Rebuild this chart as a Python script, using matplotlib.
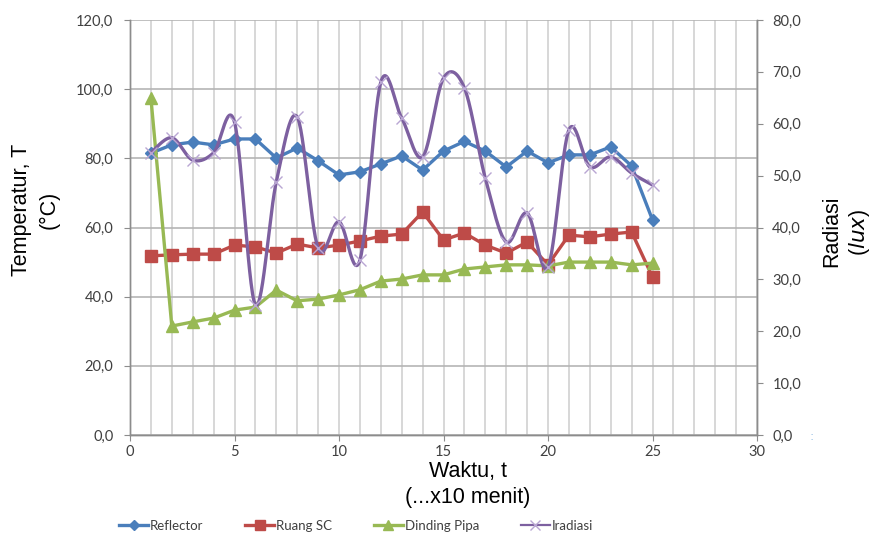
import numpy as np
import matplotlib
matplotlib.use("Agg")
import matplotlib.pyplot as plt
from matplotlib.lines import Line2D
from matplotlib.ticker import FuncFormatter, MultipleLocator

# Waktu (x10 menit)
waktu = list(range(1, 26))

# Temperatur (°C)
reflector = [81.5, 83.9, 84.7, 83.9, 85.6, 85.6, 80.1, 83.0, 79.3, 75.2,
             76.1, 78.4, 80.7, 76.6, 82.1, 84.9, 82.1, 77.5, 82.1, 78.7,
             81.0, 81.0, 83.3, 77.8, 62.2]
ruang_sc = [51.8, 52.1, 52.3, 52.3, 54.9, 54.4, 52.6, 55.2, 54.1, 54.9,
            56.1, 57.5, 58.1, 64.5, 56.4, 58.4, 54.9, 52.6, 55.8, 49.2,
            57.8, 57.3, 58.1, 58.7, 45.7]
dinding_pipa = [97.5, 31.5, 32.7, 33.8, 36.1, 37.0, 41.9, 38.8, 39.3, 40.5,
                42.0, 44.5, 45.1, 46.3, 46.3, 48.0, 48.6, 49.2, 49.2, 48.9,
                50.0, 50.0, 50.0, 49.2, 49.7]

# Radiasi (lux)
iradiasi = [54.4, 57.3, 53.0, 54.4, 60.3, 25.1, 48.8, 61.3, 36.0, 41.1,
            33.7, 68.0, 61.1, 53.6, 68.8, 66.9, 49.5, 37.2, 42.8, 32.4,
            58.8, 51.7, 53.6, 50.5, 48.2]

C_BLUE = "#4a7ebb"
C_RED = "#be4b48"
C_GREEN = "#98b954"
C_PURPLE = "#7d60a0"
C_TEXT = "#404040"


def smooth_curve(x, y, n=30):
    """Bezier smoothing through the points (Catmull-Rom style controls)."""
    p = np.column_stack([x, y]).astype(float)
    pts = np.vstack([p[0], p, p[-1]])
    out = []
    t = np.linspace(0, 1, n)[:, None]
    for i in range(1, len(pts) - 2):
        p0, p1, p2, p3 = pts[i - 1], pts[i], pts[i + 1], pts[i + 2]
        c1 = p1 + (p2 - p0) / 6.0
        c2 = p2 - (p3 - p1) / 6.0
        seg = ((1 - t) ** 3) * p1 + 3 * ((1 - t) ** 2) * t * c1 \
            + 3 * (1 - t) * t ** 2 * c2 + t ** 3 * p2
        out.append(seg if i == 1 else seg[1:])
    seg = np.vstack(out)
    return seg[:, 0], seg[:, 1]


comma = FuncFormatter(lambda v, pos: f"{v:.1f}".replace(".", ","))

fig = plt.figure(figsize=(8.75, 5.38), dpi=100)
ax = fig.add_axes([130 / 875, 103 / 538, 627 / 875, 415 / 538])
ax2 = ax.twinx()

ax.set_xlim(0, 30)
ax.set_ylim(0, 120)
ax2.set_ylim(0, 80)

ax.xaxis.set_major_locator(MultipleLocator(5))
ax.xaxis.set_minor_locator(MultipleLocator(1))
ax.yaxis.set_major_locator(MultipleLocator(20))
ax2.yaxis.set_major_locator(MultipleLocator(10))
ax.yaxis.set_major_formatter(comma)
ax2.yaxis.set_major_formatter(comma)

ax.grid(which="both", axis="x", color="#d4d4d4", lw=1.3)
ax.grid(which="major", axis="y", color="#b5b5b5", lw=1.2)
ax.set_axisbelow(True)

for a in (ax, ax2):
    for s in a.spines.values():
        s.set_color("#8c8c8c")
        s.set_linewidth(1.0)
    a.spines["top"].set_visible(False)

ax.tick_params(axis="x", which="major", direction="out", length=4,
               color="#8c8c8c", labelcolor=C_TEXT, pad=3)
ax.tick_params(axis="y", which="major", direction="out", length=4,
               color="#8c8c8c", labelcolor=C_TEXT, pad=8)
ax.tick_params(axis="x", which="minor", length=0)
ax2.tick_params(axis="y", direction="out", length=4, color="#8c8c8c",
                labelcolor=C_TEXT, pad=7)
for lbl in ax.get_xticklabels() + ax.get_yticklabels() + ax2.get_yticklabels():
    lbl.set_fontfamily("Lato")
    lbl.set_fontsize(10.5)

lw = 2.4
ax.plot(waktu, reflector, color=C_BLUE, lw=lw, marker="D", ms=6.5,
        mfc=C_BLUE, mec=C_BLUE, zorder=3)
ax.plot(waktu, ruang_sc, color=C_RED, lw=lw, marker="s", ms=8.5,
        mfc=C_RED, mec=C_RED, zorder=3)
ax.plot(waktu, dinding_pipa, color=C_GREEN, lw=lw, marker="^", ms=8.5,
        mfc=C_GREEN, mec=C_GREEN, zorder=3)

sx, sy = smooth_curve(waktu, iradiasi)
ax2.plot(sx, sy, color=C_PURPLE, lw=lw, zorder=4)
ax2.plot(waktu, iradiasi, ls="none", marker="x", ms=8, mew=1.0,
         color="#b9a6d3", zorder=4)

label_font = dict(family="Liberation Sans", size=15.5, color="black")
fig.text(22 / 875, 1 - 210 / 538, "Temperatur, T", rotation=90,
         ha="center", va="center", **label_font)
fig.text(49 / 875, 1 - 210 / 538, "(°C)", rotation=90,
         ha="center", va="center", **label_font)
fig.text(832 / 875, 1 - 231 / 538, "Radiasi", rotation=90,
         ha="center", va="center", **label_font)
fig.text(860 / 875, 1 - 232 / 538, "($\\it{lux}$)", rotation=90,
         ha="center", va="center", **label_font)
fig.text(468 / 875, 1 - 472 / 538, "Waktu, t", ha="center", va="center",
         **label_font)
fig.text(468 / 875, 1 - 498 / 538, "(...x10 menit)", ha="center",
         va="center", **label_font)
fig.text(812 / 875, 1 - 436 / 538, ":", ha="center", va="center",
         color="#9dc3e6", fontsize=9)

handles = [
    Line2D([], [], color=C_BLUE, lw=2.4, marker="D", ms=5),
    Line2D([], [], color=C_RED, lw=2.4, marker="s", ms=7),
    Line2D([], [], color=C_GREEN, lw=2.4, marker="^", ms=7),
    Line2D([], [], color=C_PURPLE, lw=1.6, marker="x", ms=7,
           mec="#b9a6d3"),
]
fig.legend(handles, ["Reflector", "Ruang SC", "Dinding Pipa", "Iradiasi"],
           loc="center", bbox_to_anchor=(356 / 875, 1 - 526 / 538),
           ncol=4, frameon=False, handlelength=2.2, handletextpad=0.15,
           columnspacing=3.15, prop=dict(family="Lato", size=9.5),
           labelcolor=C_TEXT)

fig.savefig("out.png", dpi=100)
